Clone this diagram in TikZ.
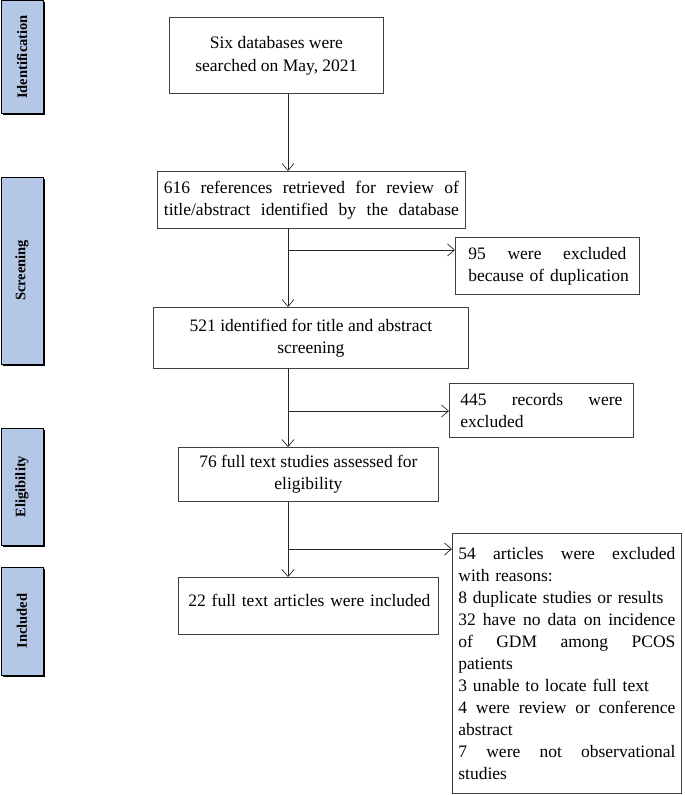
\documentclass[tikz,border=0pt]{standalone}
\usepackage{fontspec}
\setmainfont{Liberation Serif}
\usetikzlibrary{arrows.meta,shadows}
\definecolor{sideblue}{HTML}{B4C7E7}
\tikzset{
  box/.style={draw=black!75, line width=0.8pt, anchor=north west, inner sep=0pt,
    font=\fontsize{17.5}{22}\selectfont},
  side/.style={draw=black, line width=1pt, fill=sideblue, rotate=90, inner sep=0pt,
    font=\fontsize{14.5}{16}\selectfont\bfseries,
    drop shadow={shadow xshift=1.5pt, shadow yshift=-1.5pt, opacity=1, fill=black}},
  conn/.style={line width=0.7pt, draw=black!85},
  arr/.style={conn, -{Straight Barb[length=7pt,width=12pt,line width=0.7pt]}}
}
\begin{document}
\begin{tikzpicture}[x=1pt,y=-1pt]
\useasboundingbox (0,0) rectangle (685,795);
% side labels
\node[side, minimum width=113pt, minimum height=42pt] (sid) at (22,57) {Identification};
\node[side, minimum width=187pt, minimum height=42pt] (sscr) at (22,270.5) {Screening};
\node[side, minimum width=117pt, minimum height=42pt] (selg) at (22,486.5) {Eligibility};
\node[side, minimum width=108pt, minimum height=42pt] (sinc) at (22,621) {Included};
% main boxes
\node[box, minimum width=214pt, minimum height=76pt, align=center, font=\fontsize{17.5}{23}\selectfont] (db) at (169,17)
  {Six databases were\\searched on May, 2021};
\node[box, minimum width=308pt, minimum height=57pt, text width=295pt, align=left] (ref) at (157,171)
  {616\hfill references\hfill retrieved\hfill for\hfill review\hfill of\\
   title/abstract\hfill identified\hfill by\hfill the\hfill database};
\node[box, minimum width=184pt, minimum height=57pt, text width=158pt, align=left] (dup) at (455,237)
  {95\hfill were\hfill excluded\\\mbox{because of duplication}};
\node[box, minimum width=315pt, minimum height=61pt, align=center] (scr) at (153,307)
  {521 identified for title and abstract\\screening};
\node[box, minimum width=184pt, minimum height=54pt, text width=162pt, align=left] (rec) at (449,383)
  {445\hfill records\hfill were\\excluded};
\node[box, minimum width=260pt, minimum height=54pt, align=center] (elg) at (178,447)
  {76 full text studies assessed for\\eligibility};
\node[box, minimum width=260pt, minimum height=57pt, text width=240pt, align=left, text depth=11pt] (inc) at (178,577)
  {\mbox{22 full text articles were included}};
\node[box, minimum width=229pt, minimum height=260pt, text width=217pt, align=left] (exc) at (452,533)
  {54\hfill articles\hfill were\hfill excluded\\
   \mbox{with reasons:}\\
   \mbox{8 duplicate studies or results}\\
   32\hfill have\hfill no\hfill data\hfill on\hfill incidence\\
   of\hfill GDM\hfill among\hfill PCOS\\
   \mbox{patients}\\
   \mbox{3 unable to locate full text}\\
   4\hfill were\hfill review\hfill or\hfill conference\\
   \mbox{abstract}\\
   7\hfill were\hfill not\hfill observational\\
   \mbox{studies}};
% trunk and branches
\coordinate (t) at (288,0);
\coordinate (b1) at (288,250);
\coordinate (b2) at (288,411);
\coordinate (b3) at (288,549);
\draw[arr] (db.south -| t) -- (ref.north -| t);
\draw[arr] (ref.south -| t) -- (scr.north -| t);
\draw[arr] (scr.south -| t) -- (elg.north -| t);
\draw[arr] (elg.south -| t) -- (inc.north -| t);
\draw[arr] (b1) -- (b1 -| dup.west);
\draw[arr] (b2) -- (b2 -| rec.west);
\draw[arr] (b3) -- (b3 -| exc.west);
\end{tikzpicture}
\end{document}
